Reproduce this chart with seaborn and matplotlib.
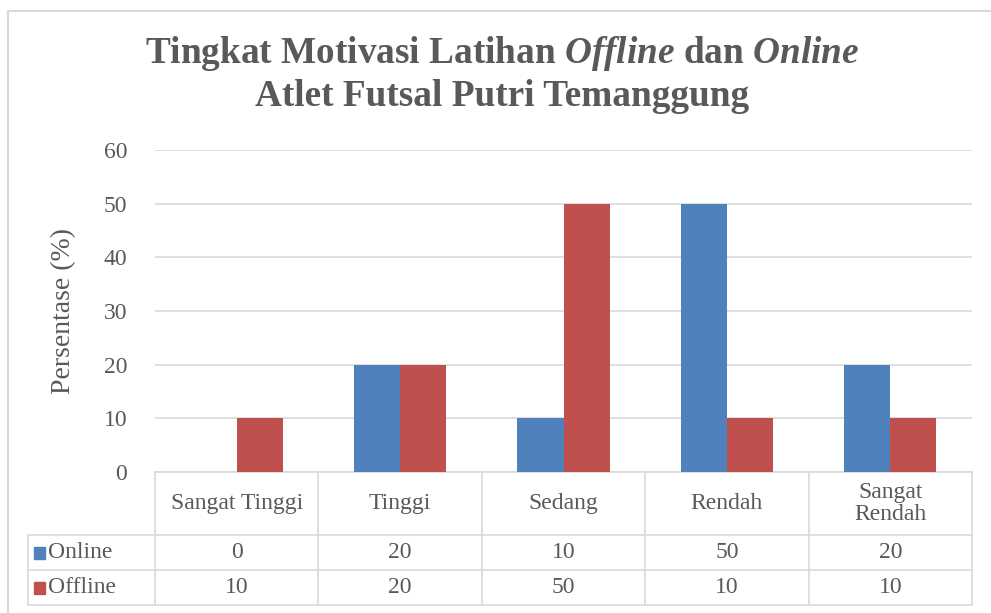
import matplotlib
matplotlib.use("Agg")
import matplotlib.pyplot as plt
import matplotlib.transforms as mtransforms
from matplotlib.lines import Line2D
from matplotlib.patches import Rectangle
import pandas as pd
import seaborn as sns

# data
categories = ["Sangat Tinggi", "Tinggi", "Sedang", "Rendah", "Sangat Rendah"]
category_labels = ["Sangat Tinggi", "Tinggi", "Sedang", "Rendah", "Sangat\nRendah"]
online = [0, 20, 10, 50, 20]
offline = [10, 20, 50, 10, 10]
series_names = ["Online", "Offline"]
yticks = [0, 10, 20, 30, 40, 50, 60]

W, H = 991, 613
TXT = "#595959"
GRID = "#d9d9d9"
colors = {"Online": "#4f81bd", "Offline": "#c0504d"}

sns.set_theme(style="white")
plt.rcParams["font.family"] = ["Liberation Serif", "DejaVu Serif"]
plt.rcParams["mathtext.fontset"] = "custom"
plt.rcParams["mathtext.it"] = "Liberation Serif:italic:bold"
plt.rcParams["mathtext.rm"] = "Liberation Serif:bold"

df = pd.DataFrame({
    "kategori": categories * 2,
    "seri": ["Online"] * len(categories) + ["Offline"] * len(categories),
    "nilai": online + offline,
})

fig = plt.figure(figsize=(W / 100, H / 100), dpi=100)

def fx(x):
    return x / W

def fy(y):
    return 1 - y / H

# plot area in pixel positions
left, right, top, bottom = 155, 972, 150, 472
ax = fig.add_axes([fx(left), fy(bottom), fx(right - left), (bottom - top) / H])

sns.barplot(data=df, x="kategori", y="nilai", hue="seri", order=categories,
            hue_order=series_names, palette=colors, width=0.565, gap=0,
            saturation=1, ax=ax, legend=False, zorder=3, linewidth=0,
            edgecolor="none")
ax.set_xlim(-0.5, len(categories) - 0.5)
ax.set_ylim(0, 60)
ax.set_yticks(yticks)
ax.set_yticklabels([str(t) for t in yticks], fontsize=17, color=TXT)
ax.tick_params(axis="y", length=0, pad=20)
ax.set_xticks([])
ax.set_xlabel("")
ax.set_ylabel("Persentase (%)", fontsize=20, color=TXT, labelpad=20)
ax.grid(axis="y", color=GRID, linewidth=1.2, zorder=0)
for side in ["top", "left", "right"]:
    ax.spines[side].set_visible(False)
ax.spines["bottom"].set_color(GRID)
ax.spines["bottom"].set_linewidth(1.2)

# title
fig.text(0.507, fy(63), "Tingkat Motivasi Latihan $\\it{Offline}$ dan $\\it{Online}$",
         ha="center", va="baseline", fontsize=26.8, fontweight="bold", color=TXT)
fig.text(0.507, fy(106), "Atlet Futsal Putri Temanggung",
         ha="center", va="baseline", fontsize=26.8, fontweight="bold", color=TXT)

# data table under the axis
tr = mtransforms.blended_transform_factory(ax.transData, fig.transFigure)
row_y = [472, 535, 570, 605]
n = len(categories)
for i in range(n + 1):
    fig.add_artist(Line2D([i - 0.5, i - 0.5], [fy(row_y[0]), fy(row_y[-1])],
                          transform=tr, color=GRID, lw=1.2))
for y in row_y[1:]:
    fig.add_artist(Line2D([fx(28), fx(right)], [fy(y), fy(y)],
                          transform=fig.transFigure, color=GRID, lw=1.2))
fig.add_artist(Line2D([fx(28), fx(28)], [fy(row_y[1]), fy(row_y[-1])],
                      transform=fig.transFigure, color=GRID, lw=1.2))

for i, lab in enumerate(category_labels):
    fig.text(i, fy((row_y[0] + row_y[1]) / 2), lab, transform=tr, ha="center",
             va="center", fontsize=17, color=TXT, linespacing=1.1)

for r, (name, vals) in enumerate(zip(series_names, [online, offline])):
    yc = fy((row_y[r + 1] + row_y[r + 2]) / 2)
    fig.add_artist(Rectangle((fx(34), yc - 6 / H), 11 / W, 12 / H,
                             transform=fig.transFigure, color=colors[name]))
    fig.text(fx(48), yc, name, ha="left", va="center", fontsize=17, color=TXT)
    for i, v in enumerate(vals):
        fig.text(i, yc, str(v), transform=tr, ha="center", va="center",
                 fontsize=17, color=TXT)

# chart border
fig.add_artist(Line2D([fx(8), fx(8), fx(991)], [fy(H), fy(11), fy(11)],
                      transform=fig.transFigure, color=GRID, lw=1.5))

fig.savefig("out.png", dpi=100)
